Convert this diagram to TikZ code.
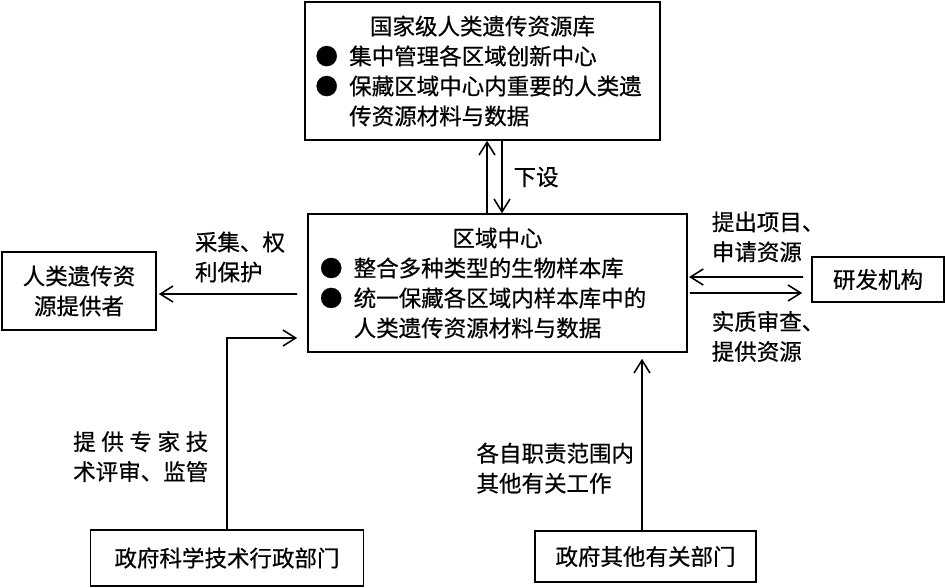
\documentclass[tikz,border=0pt]{standalone}
\usepackage{fontspec}
\setmainfont{Noto Sans CJK SC}[FakeBold=0.6]
\usetikzlibrary{arrows.meta,positioning}
\newcommand{\bul}{\makebox[1.5em][l]{●}}

\begin{document}
\begin{tikzpicture}[x=0.025cm, y=-0.025cm,
  font=\fontsize{16pt}{21.3pt}\selectfont,
  box/.style={draw, line width=1.1pt},
  lbl/.style={align=left, inner sep=0pt},
  link/.style={arrows={-Straight Barb[length=3.2mm,width=4mm]}, line width=1.1pt}]
\useasboundingbox (0,0) rectangle (945,587);

\node[box, minimum width=8.875cm, minimum height=3.45cm, text width=8.35cm, align=left] at (482.5,71) (bank)
  {\makebox[\linewidth]{国家级人类遗传资源库}\\
   \bul 集中管理各区域创新中心\\
   \bul 保藏区域中心内重要的人类遗\\
   \hspace*{1.5em}传资源材料与数据};
\node[box, minimum width=9.475cm, minimum height=3.45cm, text width=8.875cm, align=left] at (497.5,283) (center)
  {\makebox[\linewidth]{区域中心}\\
   \bul 整合多种类型的生物样本库\\
   \bul 统一保藏各区域内样本库中的\\
   \hspace*{1.5em}人类遗传资源材料与数据};
\node[box, minimum width=3.85cm, minimum height=1.95cm, align=center] at (79,291) (donor) {人类遗传资\\源提供者};
\node[box, minimum width=3.3cm, minimum height=1.125cm] at (878,279.5) (rnd) {研发机构};
\node[box, minimum width=6.825cm, minimum height=1.4cm] at (227,558) (sci) {政府科学技术行政部门};
\node[box, minimum width=5.525cm, minimum height=1.275cm] at (645.5,556.5) (other) {政府其他有关部门};

%national bank and regional center
\draw[link] ([xshift=-0.2625cm]center.north) -- ([xshift=0.1125cm]bank.south);
\draw[link] ([xshift=0.4875cm]bank.south) -- ([xshift=0.1125cm]center.north)
  node[lbl, midway, right=0.27cm] {下设};

%to the providers
\draw[link] ([xshift=-0.25cm,yshift=-0.275cm]center.west) -- ([xshift=0.05cm,yshift=-0.075cm]donor.east)
  node[lbl, midway, above=0.27cm, xshift=0.3cm] {采集、权\\利保护};

%research institutes
\draw[link] ([xshift=-0.2cm,yshift=0.0625cm]rnd.west) -- ([xshift=0.03cm,yshift=0.15cm]center.east)
  node[lbl, midway, above=0.35cm, xshift=0.55cm] {提出项目、\\申请资源};
\draw[link] ([xshift=0.05cm,yshift=-0.25cm]center.east) -- ([xshift=-0.225cm,yshift=-0.3375cm]rnd.west)
  node[lbl, midway, below=0.43cm, xshift=0.55cm] {实质审查、\\提供资源};

%government departments
\draw[link] (sci.north) |- ([xshift=-0.25cm,yshift=-1.375cm]center.west)
  node[lbl, pos=0.19, left=0.45cm] {\makebox[6em][s]{提\hfil 供\hfil 专\hfil 家\hfil 技}\\术评审、监管};
\draw[link, shorten >=0.15cm] ([xshift=-0.0875cm]other.north) -- ([xshift=-0.0875cm]other.north |- center.south)
  node[lbl, pos=0.35, left=0.18cm] {各自职责范围内\\其他有关工作};

\end{tikzpicture}
\end{document}
